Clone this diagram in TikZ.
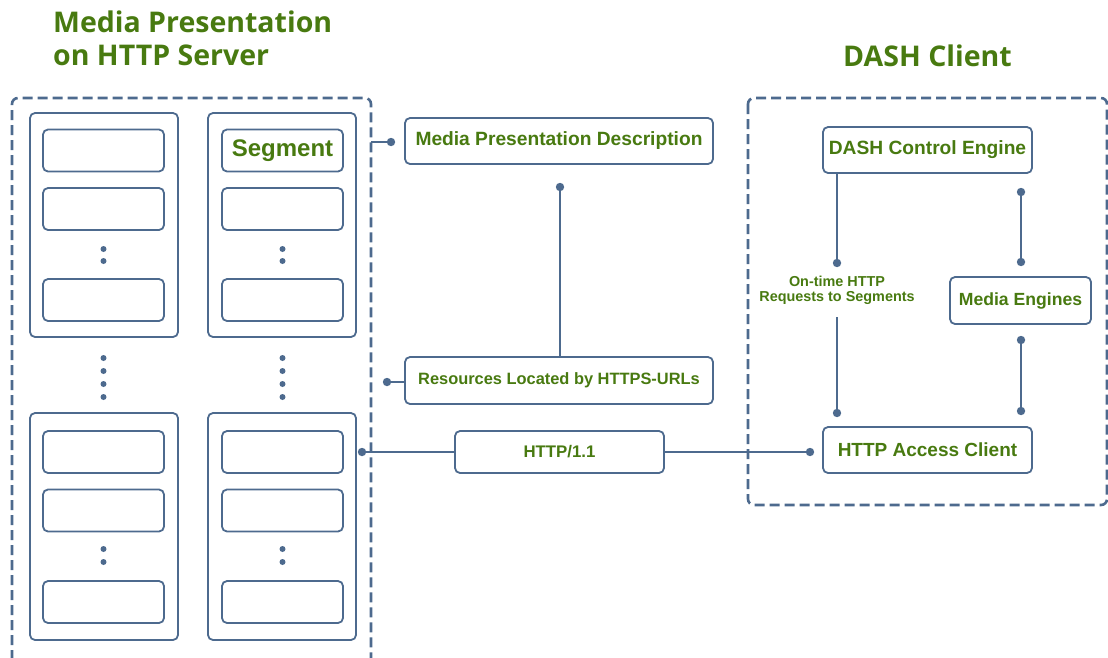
\documentclass[tikz,border=0pt]{standalone}
\usepackage{fontspec}
\setmainfont{Liberation Sans}
\newfontfamily\titlefont{Open Sans}
\definecolor{edge}{RGB}{77,106,142}
\definecolor{leaf}{RGB}{72,122,16}
\begin{document}
\begin{tikzpicture}[x=1pt,y=-1pt,
  every node/.style={inner sep=0pt},
  frame/.style={draw=edge,line width=2.6pt,dash pattern=on 10pt off 5pt,rounded corners=6pt},
  column/.style={draw=edge,line width=1.8pt,rounded corners=5pt,minimum width=148pt},
  slot/.style={draw=edge,line width=1.8pt,rounded corners=5pt,fill=white,minimum width=121pt,minimum height=42pt},
  box/.style={draw=edge,line width=1.8pt,rounded corners=5pt,fill=white,minimum height=46pt,text=leaf},
  link/.style={draw=edge,line width=1.8pt},
  pin/.style={fill=edge},
  title/.style={text=leaf,font=\titlefont\bfseries\fontsize{28.5}{34}\selectfont,anchor=base west}]
\useasboundingbox (0,0) rectangle (1108,657);
\clip (0,0) rectangle (1108,657);

% titles
\node[title] (t1) at (53,32) {Media Presentation};
\node[title] (t2) at (53,65) {on HTTP Server};
\node[title] (t3) at (843,66) {DASH Client};

% server frame (runs past the lower edge)
\draw[frame] (12,690) -- (12,98) -- (371,98) -- (371,690);

% representation columns
\node[column,minimum height=224pt] (c1a) at (104,225) {};
\node[column,minimum height=224pt] (c2a) at (282,225) {};
\node[column,minimum height=227pt] (c1b) at (104,526.5) {};
\node[column,minimum height=227pt] (c2b) at (282,526.5) {};

% segments
\foreach \x/\n in {103.5/l,282.5/r}{
  \node[slot] (\n1) at (\x,150.5) {};
  \node[slot] (\n2) at (\x,209) {};
  \node[slot] (\n3) at (\x,300) {};
  \node[slot] (\n4) at (\x,452) {};
  \node[slot] (\n5) at (\x,510.5) {};
  \node[slot] (\n6) at (\x,602) {};
  \foreach \y in {249,261,549,562,358,371,384,397}
    \fill[pin] (\x,\y) circle (3pt);
}
\node[font=\bfseries\fontsize{24}{28}\selectfont,text=leaf] (seg) at (r1) {Segment};

% middle boxes
\node[box,minimum width=308pt,font=\bfseries\fontsize{19.2}{23}\selectfont] (mpd) at (559,141) {Media Presentation Description};
\node[box,minimum width=308pt,minimum height=47pt,font=\bfseries\fontsize{16.4}{20}\selectfont] (res) at (559,380.5) {Resources Located by HTTPS-URLs};
\node[box,minimum width=209pt,minimum height=42pt,font=\bfseries\fontsize{16.8}{20}\selectfont] (http) at (559.5,452) {HTTP/1.1};

% client frame and boxes
\draw[frame] (748,98) rectangle (1107,505);
\node[box,minimum width=209pt,font=\bfseries\fontsize{19.2}{23}\selectfont] (dce) at (927.5,150) {DASH Control Engine};
\node[box,minimum width=209pt,font=\bfseries\fontsize{19}{23}\selectfont] (hac) at (927.5,450) {HTTP Access Client};
\node[box,minimum width=141pt,minimum height=47pt,font=\bfseries\fontsize{17.6}{21}\selectfont] (me) at (1020.5,300.5) {Media Engines};
\node[text=leaf,font=\bfseries\fontsize{14.4}{15.5}\selectfont,align=center] (req) at (837,290.5) {On-time HTTP\\Requests to Segments};

% connector end points
\coordinate (pa) at (391,142);
\coordinate (pb) at (560,187);
\coordinate (pc) at (387,382);
\coordinate (pd) at (362,452);
\coordinate (pe) at (810,452);
\coordinate (pf) at (837,263);
\coordinate (pg) at (837,317);
\coordinate (ph) at (837,413);
\coordinate (pi) at (1021,192);
\coordinate (pj) at (1021,262);
\coordinate (pk) at (1021,340);
\coordinate (pl) at (1021,411);

% connectors
\draw[link] (371,142) -- (pa);
\draw[link] (pb) -- (pb |- res.north);
\draw[link] (pc) -- (pc -| res.west);
\draw[link] (pd) -- (http.west);
\draw[link] (http.east) -- (pe);
\draw[link] (pf |- dce.south) -- (pf);
\draw[link] (pg) -- (ph);
\draw[link] (pi) -- (pj);
\draw[link] (pk) -- (pl);
\foreach \p in {pa,pb,pc,pd,pe,pf,ph,pi,pj,pk,pl}
  \fill[pin] (\p) circle (4.2pt);
\end{tikzpicture}
\end{document}
